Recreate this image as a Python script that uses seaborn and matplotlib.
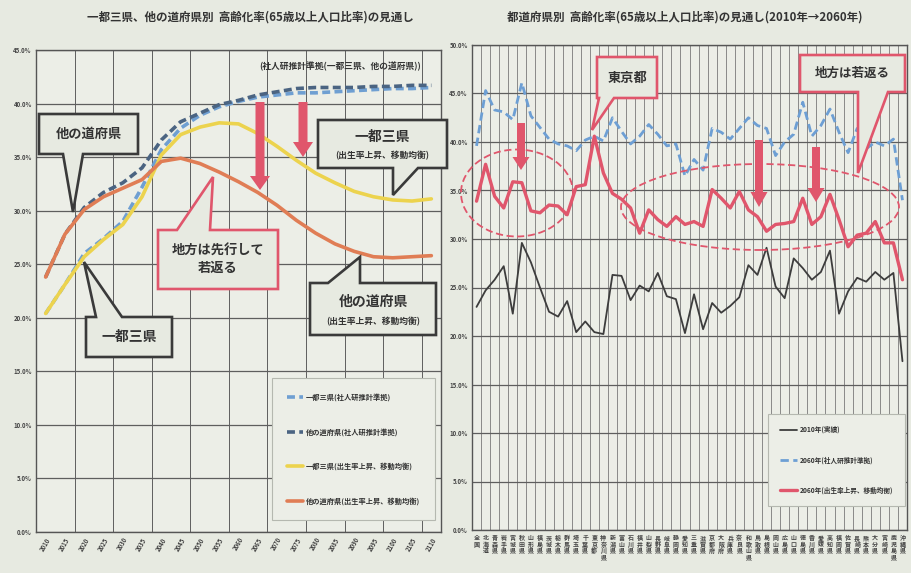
import numpy as np
import pandas as pd
import matplotlib
matplotlib.use('Agg')
import matplotlib.pyplot as plt
import seaborn as sns
from matplotlib.patches import Polygon, Ellipse

# ── data: left chart (long-term outlook by region) ──
years = [str(y) for y in range(2010, 2115, 5)]
tokyo_ipss = [20.4, 23.1, 26.0, 27.4, 29.0, 32.2, 35.7, 37.7, 38.9, 39.7, 40.2,
              40.6, 40.8, 41.0, 41.0, 41.1, 41.2, 41.3, 41.4, 41.4, 41.5]
other_ipss = [23.8, 27.8, 30.3, 31.7, 32.6, 34.0, 36.6, 38.3, 39.1, 39.9, 40.3,
              40.8, 41.1, 41.4, 41.5, 41.5, 41.5, 41.6, 41.6, 41.7, 41.7]
tokyo_up = [20.4, 23.1, 25.7, 27.3, 28.7, 31.3, 35.2, 37.1, 37.8, 38.2, 38.1,
            37.2, 36.0, 34.7, 33.5, 32.6, 31.8, 31.3, 31.0, 30.9, 31.1]
other_up = [23.8, 27.8, 30.1, 31.3, 32.1, 32.9, 34.6, 34.9, 34.4, 33.6, 32.7,
            31.7, 30.5, 29.1, 27.9, 26.9, 26.2, 25.7, 25.6, 25.7, 25.8]

# ── data: right chart (by prefecture) ──
prefs = ['全国', '北海道', '青森県', '岩手県', '宮城県', '秋田県', '山形県', '福島県',
         '茨城県', '栃木県', '群馬県', '埼玉県', '千葉県', '東京都', '神奈川県', '新潟県',
         '富山県', '石川県', '福井県', '山梨県', '長野県', '岐阜県', '静岡県', '愛知県',
         '三重県', '滋賀県', '京都府', '大阪府', '兵庫県', '奈良県', '和歌山県', '鳥取県',
         '島根県', '岡山県', '広島県', '山口県', '徳島県', '香川県', '愛媛県', '高知県',
         '福岡県', '佐賀県', '長崎県', '熊本県', '大分県', '宮崎県', '鹿児島県', '沖縄県']
rate_2010 = [23.0, 24.7, 25.8, 27.2, 22.3, 29.6, 27.6, 25.0, 22.5, 22.0, 23.6, 20.4,
             21.5, 20.4, 20.2, 26.3, 26.2, 23.7, 25.2, 24.6, 26.5, 24.1, 23.8, 20.3,
             24.3, 20.7, 23.4, 22.4, 23.1, 24.0, 27.3, 26.3, 29.1, 25.1, 23.9, 28.0,
             27.0, 25.8, 26.6, 28.8, 22.3, 24.6, 26.0, 25.6, 26.6, 25.8, 26.5, 17.4]
rate_2060_ipss = [39.6, 45.3, 43.3, 43.1, 42.3, 46.1, 42.7, 41.5, 40.3, 39.8, 39.6, 39.1,
                  40.2, 40.6, 40.1, 42.5, 41.1, 39.8, 40.6, 41.8, 40.8, 39.6, 39.8, 36.5,
                  38.2, 37.1, 41.4, 41.0, 40.3, 41.4, 42.5, 41.7, 41.4, 38.6, 40.0, 40.8,
                  44.1, 40.6, 41.7, 43.4, 41.0, 38.9, 41.4, 39.3, 40.0, 39.6, 40.3, 34.0]
rate_2060_up = [33.9, 37.7, 34.4, 33.2, 35.9, 35.8, 32.9, 32.7, 33.5, 33.4, 32.5, 35.4,
                35.6, 40.6, 36.8, 34.7, 34.1, 33.2, 30.6, 33.0, 32.0, 31.3, 32.3, 31.5,
                31.8, 31.3, 35.1, 34.2, 33.2, 34.9, 33.0, 32.3, 30.8, 31.5, 31.6, 31.8,
                34.2, 31.5, 32.3, 34.6, 32.0, 29.2, 30.4, 30.6, 31.8, 29.6, 29.6, 25.8]

BG = '#e7eae1'
PANEL = '#eceee7'
GRID = '#5e5e5e'
RED = '#e0566c'
INK = '#333333'

sns.set_style('white')
plt.rcParams['font.family'] = ['Noto Sans CJK JP', 'DejaVu Sans']

W, H = 911, 573
fig = plt.figure(figsize=(W / 100, H / 100), dpi=100)
fig.patch.set_facecolor(BG)


# pixel (top-left origin) -> figure fraction
def fx(x):
    return x / W


def fy(y):
    return 1 - y / H


def axes_px(x0, y0, x1, y1):
    return fig.add_axes([fx(x0), fy(y1), (x1 - x0) / W, (y1 - y0) / H])


def bubble(rect, base, tip, side, color, text, size, sub=None, lw=1.9):
    x0, y0, x1, y1 = rect
    b0, b1 = base
    if side == 'bottom':
        pts = [(x0, y0), (x1, y0), (x1, y1), (b1, y1), tip, (b0, y1), (x0, y1)]
    else:
        pts = [(x0, y0), (b0, y0), tip, (b1, y0), (x1, y0), (x1, y1), (x0, y1)]
    fig.add_artist(Polygon([(fx(a), fy(b)) for a, b in pts], closed=True,
                           transform=fig.transFigure, facecolor=BG,
                           edgecolor=color, lw=lw, zorder=5))
    cx = (x0 + x1) / 2
    if sub is None:
        fig.text(fx(cx), fy((y0 + y1) / 2), text, ha='center', va='center',
                 fontsize=size, color=INK, fontweight='bold', zorder=6,
                 linespacing=1.3)
    else:
        fig.text(fx(cx), fy(y0 + (y1 - y0) * 0.36), text, ha='center', va='center',
                 fontsize=size, color=INK, fontweight='bold', zorder=6)
        fig.text(fx(cx), fy(y0 + (y1 - y0) * 0.74), sub, ha='center', va='center',
                 fontsize=6.3, color=INK, fontweight='bold', zorder=6)


def down_arrow(x, y0, ytip, head_y, w=9, hw=20):
    pts = [(x - w / 2, y0), (x + w / 2, y0), (x + w / 2, head_y), (x + hw / 2, head_y),
           (x, ytip), (x - hw / 2, head_y), (x - w / 2, head_y)]
    fig.add_artist(Polygon([(fx(a), fy(b)) for a, b in pts], closed=True,
                           transform=fig.transFigure, facecolor=RED,
                           edgecolor='none', zorder=4))


def style_axes(ax, ymax, xlabels, rot, n, gstep, lab_kw):
    ax.set_facecolor(PANEL)
    ax.set_ylim(0, ymax)
    ax.set_xlim(-0.5, n - 0.5)
    ticks = np.arange(0, ymax + 0.1, 5)
    ax.set_yticks(ticks)
    ax.set_yticklabels([f'{v:.1f}%' for v in ticks],
                       fontsize=4.3, color='#444444', fontweight='bold')
    ax.set_xticks(range(n))
    ax.set_xticklabels(xlabels, rotation=rot, **lab_kw)
    ax.set_xticks(np.arange(-0.5, n, gstep), minor=True)
    ax.tick_params(axis='both', which='both', length=0, pad=3)
    ax.grid(axis='y', which='major', color=GRID, lw=0.9)
    ax.grid(axis='x', which='minor', color=GRID, lw=0.7)
    ax.grid(axis='x', which='major', visible=False)
    for s in ax.spines.values():
        s.set_color('#555555')
        s.set_linewidth(1.0)
    ax.set_xlabel('')
    ax.set_ylabel('')


def style_legend(leg):
    for t in leg.get_texts():
        t.set_color(INK)
        t.set_fontweight('bold')
    leg.get_frame().set_linewidth(0.8)
    leg.set_zorder(4)


# ── Left chart ──
axL = axes_px(36, 50, 441, 532)
xl = np.arange(len(years))
sns.lineplot(x=xl, y=tokyo_ipss, ax=axL, color='#6f9fd2', lw=2.6,
             linestyle=(0, (2.2, 1.2)), label='一都三県(社人研推計準拠)', zorder=3)
sns.lineplot(x=xl, y=other_ipss, ax=axL, color='#4b6482', lw=2.6,
             linestyle=(0, (2.2, 1.2)), label='他の道府県(社人研推計準拠)', zorder=3)
sns.lineplot(x=xl, y=tokyo_up, ax=axL, color='#ecd34e', lw=2.6,
             label='一都三県(出生率上昇、移動均衡)', zorder=3)
sns.lineplot(x=xl, y=other_up, ax=axL, color='#e07d55', lw=2.6,
             label='他の道府県(出生率上昇、移動均衡)', zorder=3)
style_axes(axL, 45, years, 60, len(years), 2,
           dict(fontsize=4.3, color='#444444', fontweight='bold', ha='right',
                rotation_mode='anchor'))
legL = axL.legend(loc='lower right', bbox_to_anchor=(0.985, 0.025), borderaxespad=0,
                  fontsize=5.2, labelspacing=3.7, borderpad=2.1, handlelength=2.2,
                  handletextpad=0.3, frameon=True, fancybox=False, framealpha=1,
                  facecolor=PANEL, edgecolor='#b5b8b0')
style_legend(legL)

fig.text(fx(250), fy(17), '一都三県、他の道府県別  高齢化率(65歳以上人口比率)の見通し',
         ha='center', va='center', fontsize=8.3, fontweight='bold', color=INK)
fig.text(fx(340), fy(66), '(社人研推計準拠(一都三県、他の道府県))', ha='center',
         va='center', fontsize=6.3, fontweight='bold', color=INK)

bubble((39, 114, 138, 154), (63, 83), (73, 212), 'bottom', '#3a3a3a', '他の道府県', 9.5)
bubble((318, 120, 447, 168), (393, 418), (393, 195), 'bottom', '#3a3a3a', '一都三県', 10,
       sub='(出生率上昇、移動均衡)')
bubble((158, 230, 278, 289), (177, 210), (213, 177), 'top', RED, '地方は先行して\n若返る', 9.5)
bubble((310, 283, 436, 335), (328, 360), (360, 257), 'top', '#3a3a3a', '他の道府県', 10,
       sub='(出生率上昇、移動均衡)')
bubble((86, 317, 172, 357), (96, 122), (84, 262), 'top', '#3a3a3a', '一都三県', 10)

down_arrow(260, 102, 190, 176)
down_arrow(303, 102, 157, 142)

# ── Right chart ──
axR = axes_px(472, 45, 907, 530)
xr = np.arange(len(prefs))
sns.lineplot(x=xr, y=rate_2010, ax=axR, color='#3d3d3d', lw=1.3,
             label='2010年(実績)', zorder=3)
sns.lineplot(x=xr, y=rate_2060_ipss, ax=axR, color='#6d9fd4', lw=2.0,
             linestyle=(0, (3.0, 1.6)), label='2060年(社人研推計準拠)', zorder=3)
sns.lineplot(x=xr, y=rate_2060_up, ax=axR, color=RED, lw=2.4,
             label='2060年(出生率上昇、移動均衡)', zorder=3)
vert = ['\n'.join(p) for p in prefs]
style_axes(axR, 50, vert, 0, len(prefs), 1,
           dict(fontsize=4.3, color='#444444', fontweight='bold', ha='center',
                va='top', linespacing=0.92))
axR.grid(axis='x', which='minor', color='#7a7a7a', lw=0.6)
legR = axR.legend(loc='lower right', bbox_to_anchor=(0.995, 0.05), borderaxespad=0,
                  fontsize=4.8, labelspacing=3.4, borderpad=1.8, handlelength=2.6,
                  handletextpad=0.3, frameon=True, fancybox=False, framealpha=1,
                  facecolor=PANEL, edgecolor='#b5b8b0')
style_legend(legR)

fig.text(fx(685), fy(17), '都道府県別  高齢化率(65歳以上人口比率)の見通し(2010年→2060年)',
         ha='center', va='center', fontsize=8.3, fontweight='bold', color=INK)

for cx, cy, ew, eh in [(517, 193, 112, 87), (760, 207, 278, 86)]:
    fig.add_artist(Ellipse((fx(cx), fy(cy)), ew / W, eh / H, transform=fig.transFigure,
                           facecolor='none', edgecolor=RED, lw=1.3,
                           linestyle=(0, (4, 2)), zorder=4))

bubble((597, 57, 657, 98), (599, 614), (592, 130), 'bottom', RED, '東京都', 9.5)
bubble((800, 55, 905, 92), (858, 888), (858, 173), 'bottom', RED, '地方は若返る', 9)

down_arrow(521, 123, 170, 157, w=8, hw=17)
down_arrow(759, 140, 207, 192, w=8, hw=17)
down_arrow(816, 147, 202, 188, w=8, hw=17)

fig.savefig('out.png', dpi=100, facecolor=BG)
